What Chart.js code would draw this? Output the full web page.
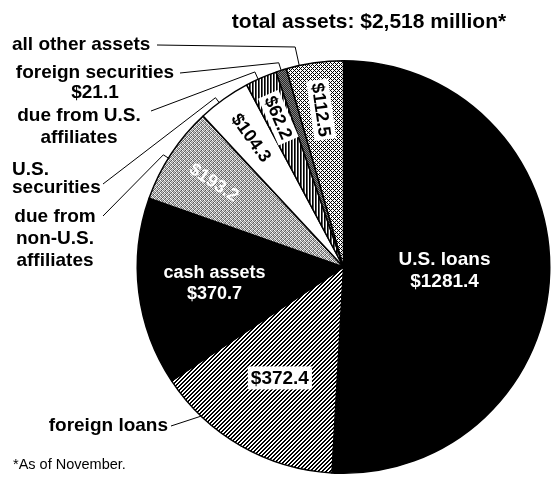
<!DOCTYPE html>
<html>
<head>
<meta charset="utf-8">
<script src="https://cdn.jsdelivr.net/npm/chart.js@4.4.1/dist/chart.umd.min.js"></script>
<style>
  html, body { margin: 0; padding: 0; background: #fff; }
  canvas { display: block; }
</style>
</head>
<body>
<canvas id="chart" width="551" height="487"></canvas>
<script>
// values in $ million, clockwise from 12 o'clock
const categories = ['U.S. loans', 'foreign loans', 'cash assets', 'due from non-U.S. affiliates',
  'U.S. securities', 'due from U.S. affiliates', 'foreign securities', 'all other assets'];
const values = [1281.4, 372.4, 370.7, 193.2, 104.3, 62.2, 21.1, 112.5];
const titleText = 'total assets: $2,518 million*';
const footnote = '*As of November.';

const money = v => '$' + v.toFixed(1);
const FONT = '"Liberation Sans", Arial, sans-serif';

// small pixel tiles used as fills (imitating the print screens)
function tile(size, fn) {
  const c = document.createElement('canvas');
  c.width = c.height = size;
  const g = c.getContext('2d');
  const img = g.createImageData(size, size);
  for (let y = 0; y < size; y++) {
    for (let x = 0; x < size; x++) {
      const v = fn(x, y), k = (y * size + x) * 4;
      img.data[k] = img.data[k + 1] = img.data[k + 2] = v;
      img.data[k + 3] = 255;
    }
  }
  g.putImageData(img, 0, 0);
  return g.createPattern(c, 'repeat');
}
const stipple = [[255, 120, 200, 90], [160, 230, 100, 210], [200, 80, 255, 140], [110, 190, 150, 240]];
const fills = [
  '#000',
  tile(4, (x, y) => ((x + y) % 4 < 2 ? 0 : 255)),            // diagonal hatch
  '#000',
  tile(4, (x, y) => stipple[y][x]),                           // grey stipple
  '#fff',
  tile(3, x => [0, 90, 255][x]),                              // vertical rule
  tile(2, (x, y) => ((x + y) % 2 ? 40 : 130)),                // dark screen
  tile(4, (x, y) => ((x + y) % 4 === 0 || (x - y + 4) % 4 === 0 ? 0 : 255)) // cross hatch
];

// labels drawn inside the slices
const inside = [
  { i: 0, name: true, r: 0.49, color: '#fff', size: 19 },
  { i: 2, name: true, r: 0.63, color: '#fff', size: 18 },
  { i: 1, r: 0.62, color: '#000', box: true, size: 19 },
  { i: 3, r: 0.75, color: '#fff', radial: true, size: 18 },
  { i: 4, r: 0.77, color: '#000', radial: true, size: 18 },
  { i: 5, r: 0.79, color: '#000', radial: true, box: true, size: 18 },
  { i: 7, r: 0.77, color: '#000', radial: true, box: true, size: 18 }
];

// labels outside with leader lines
const callouts = [
  { i: 7, lines: [['all other assets', 12, 50]], align: 'left', from: [157, 45], frac: 0.23, ext: 19 },
  { i: 6, lines: [['foreign securities', 95, 78], [money(values[6]), 95, 98]], align: 'center', from: [180, 73], frac: 0.5, ext: 8 },
  { i: 5, lines: [['due from U.S.', 79, 121], ['affiliates', 79, 143]], align: 'center', from: [151, 111], frac: 0.4, ext: 8 },
  { i: 4, lines: [['U.S.', 12, 175], ['securities', 12, 193]], align: 'left', from: [103, 184], frac: 0.39, ext: 6 },
  { i: 3, lines: [['due from', 55, 222], ['non-U.S.', 55, 244], ['affiliates', 55, 266]], align: 'center', from: [103, 216], frac: 0.45, ext: 6 },
  { i: 1, lines: [['foreign loans', 168, 431]], align: 'right', from: [171, 426], frac: 0.76, ext: 0 }
];

const annotate = {
  id: 'annotate',
  afterDatasetsDraw(chart) {
    const ctx = chart.ctx;
    const arcs = chart.getDatasetMeta(0).data;
    const at = (i, frac, dr, rf) => {
      const p = arcs[i].getProps(['x', 'y', 'startAngle', 'endAngle', 'outerRadius'], true);
      const ang = p.startAngle + (p.endAngle - p.startAngle) * frac;
      const r = rf !== undefined ? p.outerRadius * rf : p.outerRadius + dr;
      return { x: p.x + Math.cos(ang) * r, y: p.y + Math.sin(ang) * r, ang };
    };
    ctx.save();

    // inside labels
    inside.forEach(l => {
      const pt = at(l.i, 0.5, 0, l.r);
      const lines = l.name ? [categories[l.i], money(values[l.i])] : [money(values[l.i])];
      ctx.save();
      ctx.translate(pt.x, pt.y);
      if (l.radial) ctx.rotate(pt.ang + Math.PI);
      ctx.font = 'bold ' + l.size + 'px ' + FONT;
      ctx.textAlign = 'center';
      ctx.textBaseline = 'middle';
      const lh = l.size + 3;
      lines.forEach((t, k) => {
        const y = (k - (lines.length - 1) / 2) * lh;
        if (l.box) {
          const w = ctx.measureText(t).width;
          ctx.fillStyle = '#fff';
          ctx.fillRect(-w / 2 - 3, y - l.size / 2 - 2, w + 6, l.size + 4);
        }
        ctx.fillStyle = l.color;
        ctx.fillText(t, 0, y + 1);
      });
      ctx.restore();
    });

    // callouts
    ctx.font = 'bold 19px ' + FONT;
    ctx.fillStyle = '#000';
    ctx.strokeStyle = '#000';
    ctx.lineWidth = 1;
    ctx.textBaseline = 'alphabetic';
    callouts.forEach(c => {
      ctx.textAlign = c.align;
      c.lines.forEach(([t, x, y]) => ctx.fillText(t, x, y));
      const elbow = at(c.i, c.frac, c.ext);
      const end = at(c.i, c.frac, 0);
      ctx.beginPath();
      ctx.moveTo(c.from[0], c.from[1]);
      ctx.lineTo(elbow.x, elbow.y);
      ctx.lineTo(end.x, end.y);
      ctx.stroke();
    });

    // title and footnote
    ctx.textAlign = 'center';
    ctx.font = 'bold 21px ' + FONT;
    ctx.fillText(titleText, 369, 28);
    ctx.textAlign = 'left';
    ctx.font = '14.5px ' + FONT;
    ctx.fillText(footnote, 13, 469);
    ctx.restore();
  }
};

new Chart(document.getElementById('chart'), {
  type: 'pie',
  data: {
    labels: categories,
    datasets: [{
      data: values,
      backgroundColor: fills,
      borderColor: '#000',
      borderWidth: 1.5
    }]
  },
  options: {
    responsive: false,
    animation: false,
    layout: { padding: { left: 136, right: 0, top: 60, bottom: 13 } },
    plugins: {
      legend: { display: false },
      tooltip: { enabled: false }
    }
  },
  plugins: [annotate]
});
</script>
</body>
</html>
